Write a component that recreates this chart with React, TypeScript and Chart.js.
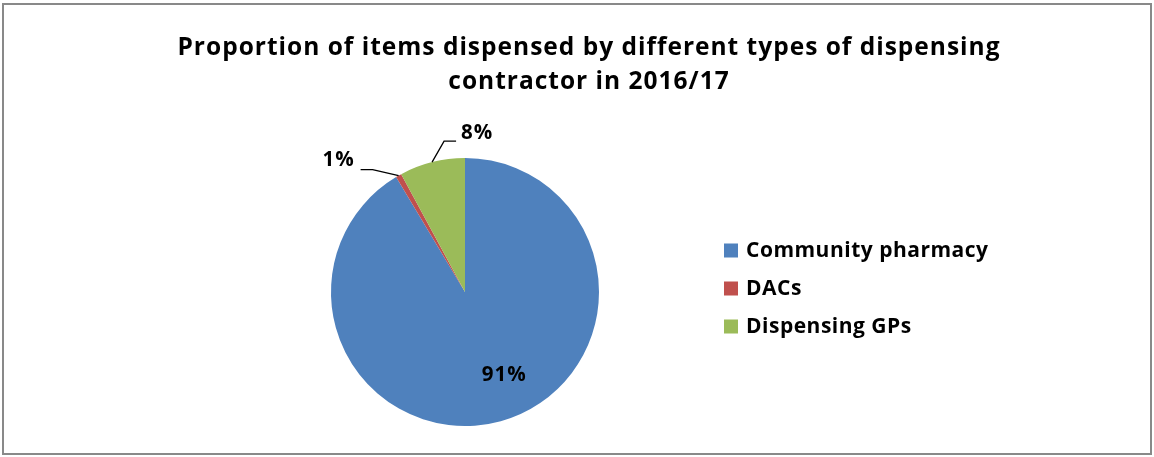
import React, { useEffect, useRef } from "react";
import { Chart, registerables } from "chart.js";

Chart.register(...registerables);

const categories = ["Community pharmacy", "DACs", "Dispensing GPs"];
const shares = [91.4, 0.7, 7.9];
const colors = ["#4F81BD", "#C0504D", "#9BBB59"];
const titleLines = [
  "Proportion of items dispensed by different types of dispensing",
  "contractor in 2016/17",
];

const FONT = "'Open Sans', sans-serif";

// label placement styles (offsets relative to the slice's outer mid point)
const labelStyles = [
  { inside: true, rFrac: 0.68, dx: 15, dy: -5 },
  { inside: false, elbow: [-26, -6], end: [-38, -6], text: [-44, -15], align: "right" },
  { inside: false, elbow: [12, -21], end: [24, -21], text: [29, -29], align: "left" },
];

const overlayPlugin = {
  id: "overlay",
  beforeDraw(chart: any) {
    const ctx = chart.ctx;
    ctx.save();
    ctx.fillStyle = "#fff";
    ctx.fillRect(0, 0, chart.width, chart.height);
    ctx.strokeStyle = "#898989";
    ctx.lineWidth = 2;
    ctx.strokeRect(3, 4, chart.width - 6, chart.height - 7);
    ctx.restore();
  },
  afterDraw(chart: any) {
    const ctx = chart.ctx;
    ctx.save();
    // title
    ctx.fillStyle = "#000";
    ctx.font = `bold 24.5px ${FONT}`;
    (ctx as any).letterSpacing = "1px";
    ctx.textAlign = "center";
    ctx.textBaseline = "alphabetic";
    titleLines.forEach((t, i) => ctx.fillText(t, 589, 55 + i * 34));

    // legend
    const labels = chart.data.labels as string[];
    const ds = chart.data.datasets[0];
    (ctx as any).letterSpacing = "0.5px";
    labels.forEach((lab, i) => {
      const cy = 250.5 + i * 38;
      ctx.fillStyle = ds.backgroundColor[i];
      ctx.fillRect(724, cy - 7, 14, 14);
      ctx.fillStyle = "#000";
      ctx.font = `bold 21px ${FONT}`;
      ctx.textAlign = "left";
      ctx.textBaseline = "middle";
      ctx.fillText(lab, 746, cy + 1);
    });

    // data labels
    const meta = chart.getDatasetMeta(0);
    const data = ds.data as number[];
    const total = data.reduce((a, b) => a + b, 0);
    (ctx as any).letterSpacing = "1px";
    meta.data.forEach((arc: any, i: number) => {
      const p = arc.getProps(["x", "y", "startAngle", "endAngle", "outerRadius"], true);
      const mid = (p.startAngle + p.endAngle) / 2;
      const txt = Math.round((data[i] / total) * 100) + "%";
      const st: any = labelStyles[i];
      ctx.font = `bold 20.5px ${FONT}`;
      ctx.fillStyle = "#000";
      ctx.textBaseline = "middle";
      if (st.inside) {
        const r = p.outerRadius * st.rFrac;
        ctx.textAlign = "center";
        ctx.fillText(txt, p.x + Math.cos(mid) * r + st.dx, p.y + Math.sin(mid) * r + st.dy);
      } else {
        const ex = p.x + Math.cos(mid) * p.outerRadius;
        const ey = p.y + Math.sin(mid) * p.outerRadius;
        ctx.strokeStyle = "#000";
        ctx.lineWidth = 1.3;
        ctx.beginPath();
        ctx.moveTo(ex, ey);
        ctx.lineTo(ex + st.elbow[0], ey + st.elbow[1]);
        ctx.lineTo(ex + st.end[0], ey + st.end[1]);
        ctx.stroke();
        ctx.textAlign = st.align;
        ctx.fillText(txt, ex + st.text[0], ey + st.text[1]);
      }
    });
    ctx.restore();
  },
};

export default function App() {
  const ref = useRef<HTMLCanvasElement>(null);
  useEffect(() => {
    if (!ref.current) return;
    const chart = new Chart(ref.current, {
      type: "pie",
      data: {
        labels: categories,
        datasets: [
          {
            data: shares,
            backgroundColor: colors,
            borderWidth: 0,
          },
        ],
      },
      options: {
        responsive: false,
        animation: false,
        devicePixelRatio: 1,
        layout: { padding: { left: 331, right: 1154 - 599, top: 157, bottom: 457 - 427 } },
        plugins: {
          legend: { display: false },
          title: { display: false },
          tooltip: { enabled: false },
        },
      },
      plugins: [overlayPlugin],
    });
    return () => chart.destroy();
  }, []);
  return (
    <div style={{ position: "absolute", left: 0, top: 0, width: 1154, height: 457 }}>
      <canvas ref={ref} width={1154} height={457} />
    </div>
  );
}
